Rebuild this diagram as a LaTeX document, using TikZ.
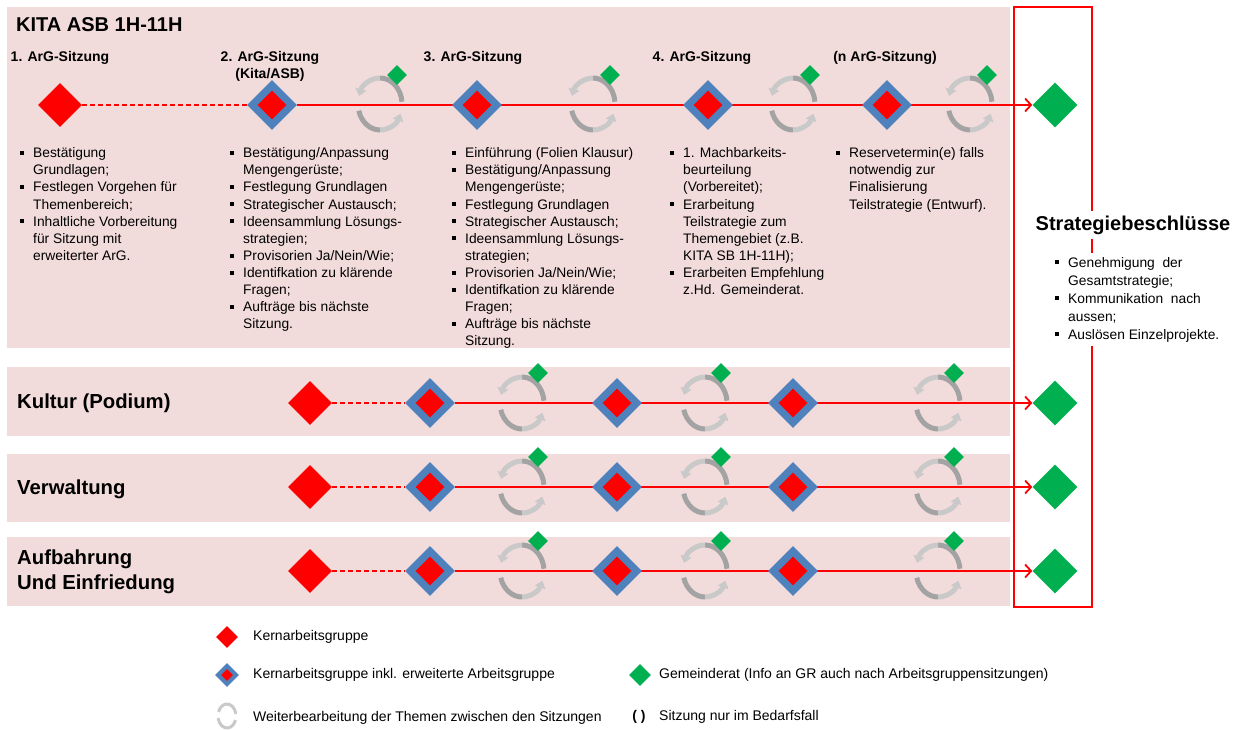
\documentclass[tikz,border=0pt]{standalone}
\usepackage{fontspec}
\setmainfont{Liberation Sans}
\usetikzlibrary{shapes.geometric,arrows.meta}
\definecolor{panel}{HTML}{F2DCDB}
\definecolor{kblue}{HTML}{4F81BD}
\definecolor{kgreen}{HTML}{00B050}
\definecolor{cdark}{HTML}{A3A3A3}
\definecolor{clight}{HTML}{C9C9C9}
\pgfdeclarelayer{back}
\pgfdeclarelayer{mid}
\pgfsetlayers{back,mid,main}
\newcommand\bu{\makebox[13pt][l]{\rule[2.8pt]{4pt}{4pt}}}
\newcommand\ind{\hspace*{13pt}}
\newcommand\bdia[2]{\node[bluedia] (#1) at (#2) {};\node[innerdia] (#1i) at (#2) {};}
\tikzset{
  dia/.style={diamond,inner sep=0pt,aspect=1},
  reddia/.style={dia,fill=red,minimum width=44pt,minimum height=44pt},
  bluedia/.style={dia,fill=kblue,minimum width=50pt,minimum height=50pt},
  innerdia/.style={dia,fill=red,minimum width=29pt,minimum height=29pt},
  greendia/.style={dia,fill=kgreen,minimum width=45pt,minimum height=45pt},
  smallgreen/.style={dia,fill=kgreen,minimum width=20pt,minimum height=20pt},
  flow/.style={draw=red,line width=1.8pt,-{Straight Barb[length=6pt,width=13pt]}},
  dashline/.style={draw=red,line width=1.6pt,dash pattern=on 5pt off 3pt},
  list/.style={align=left,inner sep=0pt,anchor=north west,font=\fontsize{13.8}{17.1}\selectfont},
  sesstitle/.style={align=center,inner sep=0pt,font=\bfseries\fontsize{14}{17}\selectfont},
  rowlabel/.style={align=left,inner sep=0pt,anchor=west,font=\bfseries\fontsize{20.3}{25}\selectfont},
  legtext/.style={inner sep=0pt,anchor=west,font=\fontsize{14}{16}\selectfont},
  cyc/.pic={
    \draw[line width=5pt,cdark] (-5:22 and 26) arc[start angle=-5,end angle=-90,x radius=22,y radius=26];
    \draw[line width=5pt,clight,-{Triangle[length=7pt,width=11pt]}] (-90:22 and 26) arc[start angle=-90,end angle=-162,x radius=22,y radius=26];
    \draw[line width=5pt,cdark] (-195:22 and 26) arc[start angle=-195,end angle=-270,x radius=22,y radius=26];
    \draw[line width=5pt,clight,-{Triangle[length=7pt,width=11pt]}] (-270:22 and 26) arc[start angle=-270,end angle=-338,x radius=22,y radius=26];
  },
  cycsmall/.pic={
    \draw[line width=3pt,clight] (-10:9 and 12) arc[start angle=-10,end angle=-160,x radius=9,y radius=12];
    \draw[line width=3pt,clight] (-190:9 and 12) arc[start angle=-190,end angle=-340,x radius=9,y radius=12];
  }
}
\begin{document}
\begin{tikzpicture}[x=1pt,y=-1pt]
\useasboundingbox (0,0) rectangle (1242,729);
\begin{pgfonlayer}{back}
\fill[white] (0,0) rectangle (1242,729);
\fill[panel] (7,7) rectangle (1010,348);
\fill[panel] (7,367) rectangle (1010,436);
\fill[panel] (7,454) rectangle (1010,522);
\fill[panel] (7,537) rectangle (1010,606);
\end{pgfonlayer}

% ---------- top panel ----------
\node[rowlabel,font=\bfseries\fontsize{20}{24}\selectfont] (kita) at (16,25) {KITA ASB 1H-11H};
\node[sesstitle] (s1) at (60,58) {1. ArG-Sitzung};
\node[sesstitle,anchor=north] (s2) at (270,51) {2. ArG-Sitzung\\(Kita/ASB)};
\node[sesstitle] (s3) at (473,58) {3. ArG-Sitzung};
\node[sesstitle] (s4) at (702,58) {4. ArG-Sitzung};
\node[sesstitle] (s5) at (885,58) {(n ArG-Sitzung)};

\node[reddia] (a1) at (60,105) {};
\bdia{a2}{272,105}
\bdia{a3}{477,105}
\bdia{a4}{708,105}
\bdia{a5}{887,105}
\node[greendia] (ag) at (1055,105) {};
\foreach \cx [count=\i] in {380,593,793,970}{
  \pic at (\cx,104) {cyc};
  \node[smallgreen] (ac\i) at (\cx+17,75) {};
}
\begin{pgfonlayer}{mid}
\draw[dashline] (a1) -- (a2);
\draw[flow] (a2) -- (ag);
\end{pgfonlayer}

\node[list] (t1) at (20,147.5) {\bu Bestätigung\\
\ind Grundlagen;\\
\bu Festlegen Vorgehen für\\
\ind Themenbereich;\\
\bu Inhaltliche Vorbereitung\\
\ind für Sitzung mit\\
\ind erweiterter ArG.};

\node[list] (t2) at (230,147.5) {\bu Bestätigung/Anpassung\\
\ind Mengengerüste;\\
\bu Festlegung Grundlagen\\
\bu Strategischer Austausch;\\
\bu Ideensammlung Lösungs-\\
\ind strategien;\\
\bu Provisorien Ja/Nein/Wie;\\
\bu Identifkation zu klärende\\
\ind Fragen;\\
\bu Aufträge bis nächste\\
\ind Sitzung.};

\node[list] (t3) at (452,147.5) {\bu Einführung (Folien Klausur)\\
\bu Bestätigung/Anpassung\\
\ind Mengengerüste;\\
\bu Festlegung Grundlagen\\
\bu Strategischer Austausch;\\
\bu Ideensammlung Lösungs-\\
\ind strategien;\\
\bu Provisorien Ja/Nein/Wie;\\
\bu Identifkation zu klärende\\
\ind Fragen;\\
\bu Aufträge bis nächste\\
\ind Sitzung.};

\node[list] (t4) at (670,147.5) {\bu 1. Machbarkeits-\\
\ind beurteilung\\
\ind (Vorbereitet);\\
\bu Erarbeitung\\
\ind Teilstrategie zum\\
\ind Themengebiet (z.B.\\
\ind KITA SB 1H-11H);\\
\bu Erarbeiten Empfehlung\\
\ind z.Hd. Gemeinderat.};

\node[list] (t5) at (836,147.5) {\bu Reservetermin(e) falls\\
\ind notwendig zur\\
\ind Finalisierung\\
\ind Teilstrategie (Entwurf).};

% ---------- rows ----------
\node[rowlabel] (lk) at (17,403) {Kultur (Podium)};
\node[rowlabel] (lv) at (17,489) {Verwaltung};
\node[rowlabel] (lu) at (17,572) {Aufbahrung\\Und Einfriedung};

\foreach \r/\y in {k/403,v/487,u/571}{
  \node[reddia] (\r1) at (310,\y) {};
  \bdia{\r2}{430,\y}
  \bdia{\r3}{617,\y}
  \bdia{\r4}{793,\y}
  \node[greendia] (\r g) at (1055,\y) {};
  \foreach \cx [count=\i] in {522,705,938}{
    \pic at (\cx,\y) {cyc};
    \node[smallgreen] (\r c\i) at (\cx+16,\y-30) {};
  }
  \begin{pgfonlayer}{mid}
  \draw[dashline] (\r1) -- (\r2);
  \draw[flow] (\r2) -- (\r g);
  \end{pgfonlayer}
}

% ---------- decision box ----------
\begin{pgfonlayer}{mid}
\draw[red,line width=2.5pt] (1014,7) rectangle (1092,607);
\end{pgfonlayer}
\node[fill=white,inner sep=5pt,font=\bfseries\fontsize{20}{24}\selectfont] (sb) at (1133,225) {Strategiebeschlüsse};
\node[list,fill=white,inner sep=4pt,font=\fontsize{13.8}{18}\selectfont] (sl) at (1051,253) {\bu Genehmigung\ \ der\\
\ind Gesamtstrategie;\\
\bu Kommunikation\ \ nach\\
\ind aussen;\\
\bu Auslösen Einzelprojekte.};

% ---------- legend ----------
\node[reddia,minimum width=22pt,minimum height=22pt] (l1) at (227,637) {};
\node[legtext] (lt1) at (253,637) {Kernarbeitsgruppe};
\node[bluedia,minimum width=24pt,minimum height=24pt] (l2) at (227,675) {};
\node[innerdia,minimum width=12pt,minimum height=12pt] (l2i) at (227,675) {};
\node[legtext] (lt2) at (253,675) {Kernarbeitsgruppe inkl. erweiterte Arbeitsgruppe};
\pic at (227,716) {cycsmall};
\node[legtext] (lt3) at (253,718) {Weiterbearbeitung der Themen zwischen den Sitzungen};
\node[greendia,minimum width=22pt,minimum height=22pt] (l4) at (640,675) {};
\node[legtext] (lt4) at (659,675) {Gemeinderat (Info an GR auch nach Arbeitsgruppensitzungen)};
\node[inner sep=0pt,font=\bfseries\fontsize{14}{16}\selectfont] (l5) at (639,717) {( )};
\node[legtext] (lt5) at (659,717) {Sitzung nur im Bedarfsfall};
\end{tikzpicture}
\end{document}
